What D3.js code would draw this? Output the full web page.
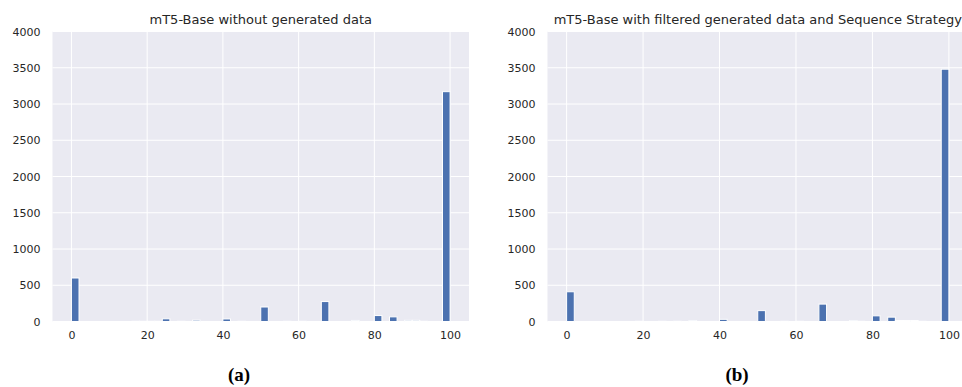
<!DOCTYPE html>
<html>
<head>
<meta charset="utf-8">
<script src="https://cdn.jsdelivr.net/npm/d3@7"></script>
<style>
  body { margin: 0; background: #fff; }
  svg { display: block; }
</style>
</head>
<body>
<svg width="962" height="387"></svg>
<script>
// 50 bins of width 2 over 0..100, counts
var binEdges = d3.range(0, 101, 2);
var countsA = [600,0,0,0,0,0,0,0,3,3,3,3,37,0,3,0,18,0,0,0,
               35,0,3,0,0,200,0,0,3,0,3,0,0,275,0,0,0,15,0,0,
               82,0,64,0,16,16,3,0,0,3170];
var countsB = [410,0,0,0,0,0,0,0,0,3,0,0,3,0,3,0,12,0,0,0,
               30,0,0,0,0,150,0,0,3,0,3,0,0,240,0,0,0,12,3,0,
               78,0,60,14,14,14,3,0,0,3480];
var titles = ["mT5-Base without generated data",
              "mT5-Base with filtered generated data and Sequence Strategy"];
var captions = ["a", "b"];
var xTicks = [0, 20, 40, 60, 80, 100];
var yTicks = [0, 500, 1000, 1500, 2000, 2500, 3000, 3500, 4000];

var svg = d3.select("svg");
var barColor = "#4c72b0";

function drawPanel(counts, title, caption, left, right, capX) {
    var top = 31.5, bottom = 321.5;
    var x = d3.scaleLinear().domain([-5, 105]).range([left, right]);
    var y = d3.scaleLinear().domain([0, 4000]).range([bottom, top]);
    var g = svg.append("g");

    g.append("rect")
        .attr("x", left).attr("y", top)
        .attr("width", right - left).attr("height", bottom - top)
        .attr("fill", "#eaeaf2");

    g.selectAll(".vgrid").data(xTicks).enter().append("line")
        .attr("x1", function(d){ return x(d); }).attr("x2", function(d){ return x(d); })
        .attr("y1", top).attr("y2", bottom)
        .attr("stroke", "#fff").attr("stroke-width", 1);
    g.selectAll(".hgrid").data(yTicks).enter().append("line")
        .attr("x1", left).attr("x2", right)
        .attr("y1", function(d){ return y(d); }).attr("y2", function(d){ return y(d); })
        .attr("stroke", "#fff").attr("stroke-width", 1);

    var bins = counts.map(function(c, i){ return {x0: binEdges[i], x1: binEdges[i + 1], n: c}; })
        .filter(function(d){ return d.n > 0; });
    g.selectAll(".bar").data(bins).enter().append("rect")
        .attr("x", function(d){ return x(d.x0); })
        .attr("width", function(d){ return x(d.x1) - x(d.x0); })
        .attr("y", function(d){ return y(d.n); })
        .attr("height", function(d){ return y(0) - y(d.n); })
        .attr("fill", barColor)
        .attr("stroke", "#fff").attr("stroke-width", 1);

    var xAxis = d3.axisBottom(x).tickValues(xTicks).tickSize(0).tickPadding(10);
    var ax = g.append("g").attr("transform", "translate(0," + bottom + ")").call(xAxis);
    var yAxis = d3.axisLeft(y).tickValues(yTicks).tickFormat(d3.format("d"))
        .tickSize(0).tickPadding(12);
    var ay = g.append("g").attr("transform", "translate(" + left + ",0)").call(yAxis);
    [ax, ay].forEach(function(a){
        a.select(".domain").remove();
        a.selectAll("text").attr("fill", "#262626")
            .style("font-family", "DejaVu Sans").style("font-size", "11px");
    });

    g.append("text")
        .attr("x", (left + right) / 2).attr("y", 23.5)
        .attr("text-anchor", "middle")
        .attr("fill", "#262626")
        .style("font-family", "DejaVu Sans").style("font-size", "13px")
        .text(title);

    g.append("text")
        .attr("x", capX).attr("y", 381)
        .attr("text-anchor", "middle")
        .attr("fill", "#000")
        .style("font-family", "Liberation Serif").style("font-size", "19px")
        .style("font-weight", "bold")
        .text("(" + caption + ")");
}

drawPanel(countsA, titles[0], captions[0], 52.5, 469, 239);
drawPanel(countsB, titles[1], captions[1], 547.5, 968, 737);
</script>
</body>
</html>
